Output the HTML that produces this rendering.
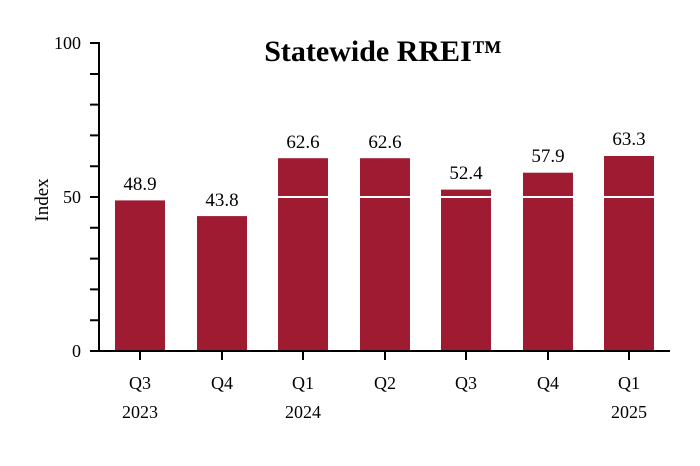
<!DOCTYPE html>
<html><head><style>body{margin:0;background:#fff}svg{display:block}text{font-family:"Liberation Serif",serif;fill:#000}</style></head>
<body>
<svg width="700" height="466" viewBox="0 0 700 466">
<text x="383" y="61" font-size="30" font-weight="bold" text-anchor="middle">Statewide RREI™</text>
<g fill="#9e1b32">
<rect x="115" y="200.4" width="50" height="150.6"/>
<rect x="197" y="216.1" width="50" height="134.9"/>
<rect x="278" y="158.2" width="50" height="192.8"/>
<rect x="360" y="158.2" width="50" height="192.8"/>
<rect x="441" y="189.6" width="50" height="161.4"/>
<rect x="523" y="172.7" width="50" height="178.3"/>
<rect x="604" y="156" width="50" height="195"/>
</g>
<g fill="#fff">
<rect x="278" y="196" width="50" height="2"/>
<rect x="360" y="196" width="50" height="2"/>
<rect x="441" y="196" width="50" height="2"/>
<rect x="523" y="196" width="50" height="2"/>
<rect x="604" y="196" width="50" height="2"/>
</g>
<g font-size="19" text-anchor="middle">
<text x="140" y="190">48.9</text>
<text x="222" y="206">43.8</text>
<text x="303" y="148">62.6</text>
<text x="385" y="148">62.6</text>
<text x="466" y="179">52.4</text>
<text x="548" y="162">57.9</text>
<text x="629" y="145">63.3</text>
</g>
<g stroke="#000" stroke-width="2" fill="none">
<path d="M99 42V351H670"/>
<path d="M90 43H99M90 74H99M90 104.6H99M90 135.4H99M90 166.2H99M90 197H99M90 227.8H99M90 258.6H99M90 289.4H99M90 320.2H99M90 351H99"/>
<path d="M140 351v9M222 351v9M303 351v9M385 351v9M466 351v9M548 351v9M629 351v9"/>
</g>
<g font-size="18" text-anchor="end">
<text x="81" y="49">100</text>
<text x="81" y="203">50</text>
<text x="81" y="357">0</text>
</g>
<text transform="translate(48 200) rotate(-90)" font-size="19" text-anchor="middle">Index</text>
<g font-size="18" text-anchor="middle">
<text x="140" y="389">Q3</text><text x="222" y="389">Q4</text><text x="303" y="389">Q1</text><text x="385" y="389">Q2</text><text x="466" y="389">Q3</text><text x="548" y="389">Q4</text><text x="629" y="389">Q1</text>
<text x="140" y="418">2023</text><text x="303" y="418">2024</text><text x="629" y="418">2025</text>
</g>
</svg>
</body></html>
